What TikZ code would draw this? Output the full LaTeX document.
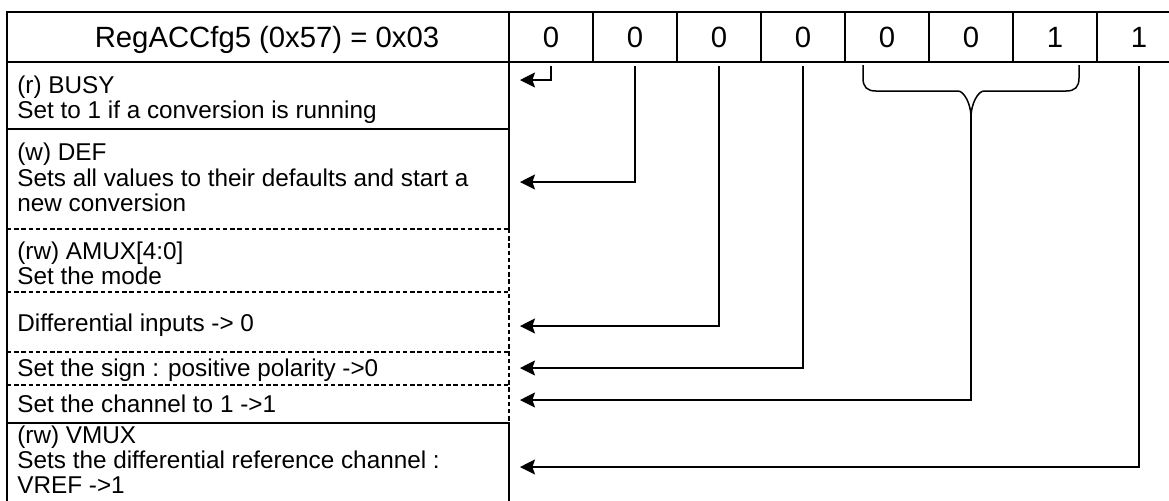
\documentclass[tikz,border=0pt]{standalone}
\usepackage{fontspec}
\setmainfont{Liberation Sans}
\usetikzlibrary{arrows.meta}
\newcommand\bodyfont{\fontsize{12.15pt}{12.65pt}\selectfont}
\newcommand\headfont{\fontsize{14.65pt}{16pt}\selectfont}
\begin{document}
\begin{tikzpicture}[x=0.5pt,y=-0.5pt,
  hdr/.style={draw, line width=0.85pt, minimum height=25pt, inner sep=0pt, font=\headfont, text height=12.5pt, text depth=2pt},
  bitcell/.style={hdr, minimum width=42pt},
  hdrtext/.style={inner sep=0pt, font=\headfont, text height=12.5pt, text depth=2pt},
  solidline/.style={line width=0.75pt},
  dashline/.style={line width=0.7pt, dash pattern=on 2.2pt off 1.4pt},
  txt/.style={anchor=base west, inner sep=0pt, font=\bodyfont},
  arr/.style={line width=0.75pt, -{Stealth[length=7.5pt,width=7.5pt,inset=1.3pt]}}]
\useasboundingbox (0,0) rectangle (1169,500);
\clip (0,0) rectangle (1169,500);
% header
\node[hdr, minimum width=251pt] (title) at (258,37) {};
\node[hdrtext] (titletext) at (267,37) {RegACCfg5 (0x57) = 0x03};
\node[bitcell] (b7) at (551,37) {0};
\node[bitcell] (b6) at (635,37) {0};
\node[bitcell] (b5) at (719,37) {0};
\node[bitcell] (b4) at (803,37) {0};
\node[bitcell] (b3) at (887,37) {0};
\node[bitcell] (b2) at (971,37) {0};
\node[bitcell] (b1) at (1055,37) {1};
\node[bitcell] (b0) at (1139,37) {1};
% left column boxes
\draw[solidline] (7,62) rectangle (509,129);
\draw[solidline] (7,229) -- (7,129) -- (509,129) -- (509,229);
\draw[dashline] (7,229) -- (509,229);
\draw[solidline] (7,229) -- (7,423);
\draw[dashline] (509,229) -- (509,423);
\draw[dashline] (7,292) -- (509,292);
\draw[dashline] (7,352) -- (509,352);
\draw[dashline] (7,385) -- (509,385);
\draw[solidline] (7,423) rectangle (509,512);
% texts
\node[txt] (t1) at (17,93.7) {(r) BUSY};
\node[txt] (t2) at (17,118.7) {Set to 1 if a conversion is running};
\node[txt] (t3) at (17,160.5) {(w) DEF};
\node[txt] (t4) at (17,186) {Sets all values to their defaults and start a};
\node[txt] (t5) at (17,211.5) {new conversion};
\node[txt] (t6) at (17,259.5) {(rw) AMUX[4:0]};
\node[txt] (t7) at (17,284.5) {Set the mode};
\node[txt] (t8) at (17,331.5) {Differential inputs -> 0};
\node[txt] (t9) at (17,376.5) {Set the sign : positive polarity ->0};
\node[txt] (t10) at (17,412.5) {Set the channel to 1 ->1};
\node[txt] (t11) at (17,443.7) {(rw) VMUX};
\node[txt] (t12) at (17,468.7) {Sets the differential reference channel :};
\node[txt] (t13) at (17,493.7) {VREF ->1};
% arrow targets
\coordinate (aBusy) at (520,80);
\coordinate (aDef) at (520,182);
\coordinate (aDiff) at (520,326);
\coordinate (aSign) at (520,368);
\coordinate (aChan) at (520,400);
\coordinate (aVmux) at (520,467);
% brace over bits 3..1
\coordinate (cusp) at (971,117);
\draw[line width=0.75pt] (863,65) -- (863,78) .. controls (863,87) and (867,91) .. (876,91) -- (958,91)
  .. controls (964,91) and (971,104) .. (cusp)
  .. controls (971,104) and (978,91) .. (984,91) -- (1066,91)
  .. controls (1075,91) and (1079,87) .. (1079,78) -- (1079,65);
% connectors
\draw[arr] ([yshift=-1.5pt]b7.south) |- (aBusy);
\draw[arr] ([yshift=-1.5pt]b6.south) |- (aDef);
\draw[arr] ([yshift=-1.5pt]b5.south) |- (aDiff);
\draw[arr] ([yshift=-1.5pt]b4.south) |- (aSign);
\draw[arr] (cusp) |- (aChan);
\draw[arr] ([yshift=-1.5pt]b0.south) |- (aVmux);
\end{tikzpicture}
\end{document}
